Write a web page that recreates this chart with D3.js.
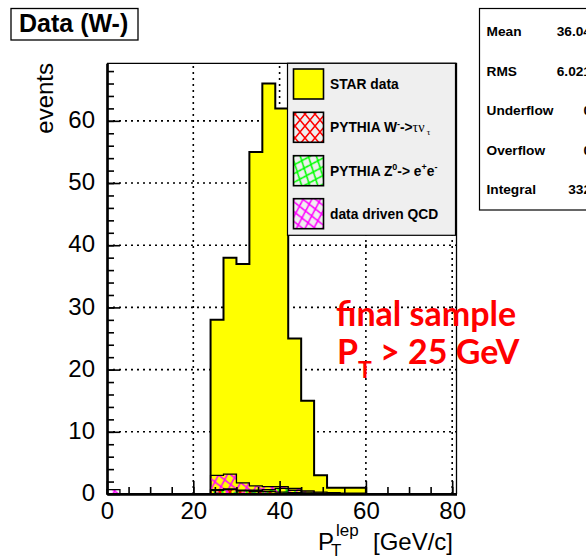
<!DOCTYPE html>
<html>
<head>
<meta charset="utf-8">
<script src="https://cdn.jsdelivr.net/npm/d3@7"></script>
<style>
  body { margin: 0; background: #fff; }
  text { font-family: "Liberation Sans", Arial, Helvetica, sans-serif; }
  text.red { font-family: Lato, "Open Sans", sans-serif; }
</style>
</head>
<body>
<div id="root"></div>
<script>
// bins of 3 GeV, low edges 0..78
const binWidth = 3;
const binLow = d3.range(0, 81, 3);
// STAR data (W-) counts per bin
const starData = [0,0,0,0,0,0,0,0,28,38,37,55,66,62,25,15,3,1,1,1,0,0,0,0,0,0,0];
// PYTHIA W- -> tau nu
const wTauNu   = [0,0,0,0,0,0,0,0,0.6,0.7,0.5,0.4,0.4,0.3,0.2,0.1,0.05,0.05,0.03,0.03,0,0,0,0,0,0,0];
// PYTHIA Z0 -> e+e-
const zEE      = [0,0,0,0,0,0,0,0,0.1,0.1,0.1,0.2,0.3,0.6,0.4,0.2,0.1,0.05,0.02,0.02,0,0,0,0,0,0,0];
// data driven QCD
const qcd      = [0.7,0,0,0,0,0,0,0,2.3,2.4,1.2,0.7,0.5,0.3,0.3,0.2,0.15,0.1,0.1,0.1,0,0,0,0,0,0,0];

const legendLabels = ["STAR data", "PYTHIA W", "PYTHIA Z", "data driven QCD"];
const statNames = ["Mean", "RMS", "Underflow", "Overflow", "Integral"];
const statValues = ["36.04", "6.021", "0", "0", "332"];
const xTicks = [0, 20, 40, 60, 80];
const yTicks = [0, 10, 20, 30, 40, 50, 60];

const W = 586, H = 558;
const svg = d3.select("#root").append("svg")
    .attr("width", W).attr("height", H);

const x = d3.scaleLinear().domain([0, 81]).range([107, 456.5]);
const y = d3.scaleLinear().domain([0, 69.25]).range([494, 63.3]);

// hatch patterns (diamond lattice)
const defs = svg.append("defs");
function hatch(id, color, rot) {
    const p = defs.append("pattern")
        .attr("id", id)
        .attr("patternUnits", "userSpaceOnUse")
        .attr("width", 10).attr("height", 12)
        .attr("patternTransform", "rotate(" + rot + ")");
    p.append("path").attr("d", "M0,0L10,12M10,0L0,12")
        .attr("stroke", color).attr("stroke-width", 1.5).attr("fill", "none");
}
hatch("hRed", "#ff0000", 0);
hatch("hGreen", "#00ff00", 22);
hatch("hMag", "#ff00ff", -12);

// grid
const grid = svg.append("g");
grid.selectAll(".gx").data([20, 40, 60, 80]).enter().append("line")
    .attr("x1", d => x(d)).attr("x2", d => x(d))
    .attr("y1", y(0)).attr("y2", y(69.25))
    .attr("stroke", "#000").attr("stroke-width", 1.6).attr("stroke-dasharray", "2,4");
grid.selectAll(".gy").data(yTicks.slice(1)).enter().append("line")
    .attr("x1", x(0)).attr("x2", x(81))
    .attr("y1", d => y(d)).attr("y2", d => y(d))
    .attr("stroke", "#000").attr("stroke-width", 1.6).attr("stroke-dasharray", "2,4");

// step outline path for a histogram
function stepPath(vals) {
    let d = "M" + x(0) + "," + y(0);
    vals.forEach((v, i) => {
        d += "L" + x(binLow[i]) + "," + y(v) + "L" + x(binLow[i] + binWidth) + "," + y(v);
    });
    d += "L" + x(81) + "," + y(0) + "Z";
    return d;
}

// data histogram
svg.append("path").attr("d", stepPath(starData))
    .attr("fill", "#ffff00").attr("stroke", "#000").attr("stroke-width", 2)
    .attr("stroke-linejoin", "miter");

// stacked MC
const s1 = wTauNu;
const s2 = s1.map((v, i) => v + zEE[i]);
const s3 = s2.map((v, i) => v + qcd[i]);
const layers = [[s3, "url(#hMag)"], [s2, "url(#hGreen)"], [s1, "url(#hRed)"]];
layers.forEach(l => {
    svg.append("path").attr("d", stepPath(l[0]))
        .attr("fill", l[1]).attr("stroke", "#000").attr("stroke-width", 1.3);
});

// axes, ROOT style inward ticks
const yAxis = svg.append("g").attr("transform", "translate(" + x(0) + ",0)")
    .call(d3.axisLeft(y).tickValues(yTicks).tickSizeInner(-13).tickSizeOuter(0).tickPadding(12));
svg.append("g").attr("transform", "translate(" + x(0) + ",0)")
    .call(d3.axisLeft(y).tickValues(d3.range(2, 69, 2)).tickFormat("").tickSizeInner(-7).tickSizeOuter(0));
svg.append("g").attr("transform", "translate(0," + y(0) + ")")
    .call(d3.axisBottom(x).tickValues(xTicks).tickSizeInner(-13).tickSizeOuter(0).tickPadding(8));
svg.append("g").attr("transform", "translate(0," + y(0) + ")")
    .call(d3.axisBottom(x).tickValues(d3.range(5, 81, 5)).tickFormat("").tickSizeInner(-7).tickSizeOuter(0));
svg.selectAll(".domain").attr("stroke", "#000").attr("stroke-width", 2.2);
svg.selectAll(".tick line").attr("stroke", "#000").attr("stroke-width", 1.6);
svg.selectAll(".tick text").attr("font-size", 24).attr("fill", "#000")
    .attr("font-family", "Liberation Sans, Arial, sans-serif");
yAxis.selectAll(".tick text").attr("dy", "0.28em");

// frame top / right
svg.append("path")
    .attr("d", "M" + x(0) + "," + y(69.25) + "H" + x(81) + "V" + y(0))
    .attr("fill", "none").attr("stroke", "#000").attr("stroke-width", 1.3);

// axis titles
svg.append("text").attr("transform", "translate(53,63) rotate(-90)")
    .attr("text-anchor", "end").attr("font-size", 24).text("events");
const xt = svg.append("g").attr("font-size", 24);
xt.append("text").attr("x", 318).attr("y", 550).text("P");
xt.append("text").attr("x", 331).attr("y", 556).attr("font-size", 17).text("T");
xt.append("text").attr("x", 336).attr("y", 536).attr("font-size", 17).text("lep");
xt.append("text").attr("x", 453).attr("y", 550).attr("text-anchor", "end").text("[GeV/c]");

// legend
const lg = svg.append("g");
lg.append("rect").attr("x", 287.5).attr("y", 63.3).attr("width", 168).attr("height", 172)
    .attr("fill", "#efefef").attr("stroke", "#000").attr("stroke-width", 1.2);
const legFill = ["#ffff00", "url(#hRed)", "url(#hGreen)", "url(#hMag)"];
const legY = [84, 127.3, 170.7, 213.7];
legendLabels.forEach((lab, i) => {
    lg.append("rect").attr("x", 293.5).attr("y", legY[i] - 15).attr("width", 30).attr("height", 30)
        .attr("fill", legFill[i]).attr("stroke", "#000").attr("stroke-width", 1.6);
    const t = lg.append("text").attr("x", 330).attr("y", legY[i] + 5)
        .attr("font-size", 13.8).attr("font-weight", "bold").text(lab);
    if (i === 1) {
        t.append("tspan").attr("dy", -5).attr("font-size", 9).text("-");
        t.append("tspan").attr("dy", 5).text("->");
        t.append("tspan").attr("font-family", "Liberation Serif, serif").attr("font-weight", "normal")
            .attr("font-size", 14).text("\u03c4\u03bd");
        t.append("tspan").attr("dy", 3).attr("font-family", "Liberation Serif, serif")
            .attr("font-weight", "normal").attr("font-size", 9).text(" \u03c4");
    }
    if (i === 2) {
        t.append("tspan").attr("dy", -6).attr("font-size", 9).text("0");
        t.append("tspan").attr("dy", 6).text("-> e");
        t.append("tspan").attr("dy", -6).attr("font-size", 9).text("+");
        t.append("tspan").attr("dy", 6).text("e");
        t.append("tspan").attr("dy", -6).attr("font-size", 9).text("-");
    }
});

// title box
svg.append("rect").attr("x", 11).attr("y", 8.5).attr("width", 127).attr("height", 31.5)
    .attr("fill", "#fff").attr("stroke", "#000").attr("stroke-width", 1.3);
svg.append("text").attr("x", 19).attr("y", 32).attr("font-size", 25).attr("font-weight", "bold")
    .text("Data (W-)");

// stats box
svg.append("rect").attr("x", 479.5).attr("y", 8.5).attr("width", 120).attr("height", 201.5)
    .attr("fill", "#fff").attr("stroke", "#000").attr("stroke-width", 1.2);
const statY = [31, 70.5, 110, 149.5, 189];
statNames.forEach((n, i) => {
    svg.append("text").attr("x", 486.5).attr("y", statY[i] + 5)
        .attr("font-size", 13.7).attr("font-weight", "bold").text(n);
    svg.append("text").attr("x", 591).attr("y", statY[i] + 5).attr("text-anchor", "end")
        .attr("font-size", 13.7).attr("font-weight", "bold").text(statValues[i]);
});

// annotation
const ann = svg.append("g").attr("fill", "#ff0000").attr("font-weight", "bold");
ann.append("text").attr("class", "red").attr("x", 336).attr("y", 326).attr("font-size", 34)
    .text("final sample");
const a2 = ann.append("text").attr("class", "red").attr("x", 337).attr("y", 364).attr("font-size", 34);
a2.append("tspan").text("P");
a2.append("tspan").attr("dy", 14).attr("font-size", 23).text("T");
a2.append("tspan").attr("dy", -14).text(" > 25 GeV");
</script>
</body>
</html>
